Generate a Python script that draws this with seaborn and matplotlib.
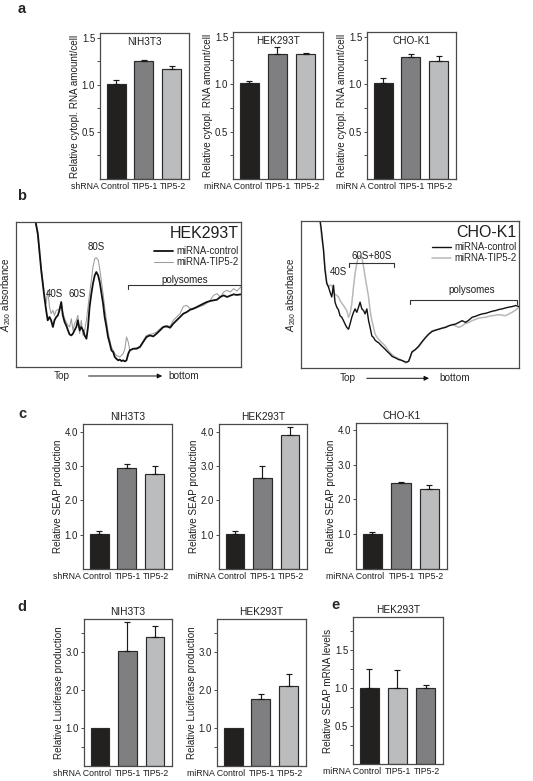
import numpy as np
import pandas as pd
import matplotlib
matplotlib.use("Agg")
import matplotlib.pyplot as plt
import seaborn as sns

# ---- panel a: relative cytoplasmic RNA amount / cell
A_NIH_LABELS = ["shRNA Control", "TIP5-1", "TIP5-2"]
A_HEK_LABELS = ["miRNA Control", "TIP5-1", "TIP5-2"]
A_CHO_LABELS = ["miRN A Control", "TIP5-1", "TIP5-2"]
A_NIH = [1.01, 1.25, 1.17]
A_NIH_ERR = [0.04, 0.01, 0.03]
A_HEK = [1.01, 1.32, 1.32]
A_HEK_ERR = [0.02, 0.07, 0.01]
A_CHO = [1.01, 1.29, 1.24]
A_CHO_ERR = [0.05, 0.03, 0.06]

# ---- panel b: polysome profiles (position along gradient %, A260 arbitrary units)
HEK_POS = [8.6, 9.7, 10.4, 11.2, 11.9, 12.6, 13.4, 14.1, 14.9, 15.6, 16.4, 17.1, 17.9, 18.6, 19.3, 20.1,
           20.8, 21.6, 22.3, 23.1, 23.8, 24.6, 25.3, 26.0, 26.8, 27.5,
           28.3, 29.0, 29.8, 30.5, 31.3, 32.0, 32.7, 33.5, 34.2, 35.0,
           35.7, 36.5, 37.2, 37.9, 38.7, 39.4, 40.2, 40.9, 41.7, 42.4,
           43.2, 43.9, 44.6, 45.4, 46.1, 46.9, 47.6, 48.4, 49.1, 49.9,
           50.6,
           52.1, 53.6, 55.1, 56.5, 58.0, 59.5, 61.0, 62.5, 64.0, 65.5,
           67.0, 68.5, 69.9, 71.4, 72.9, 74.4, 75.9, 77.4, 78.9, 80.4,
           81.8, 83.3, 84.8, 86.3, 87.8, 89.3, 90.8, 92.3, 93.8, 95.2,
           96.7, 98.2, 99.9]
HEK_CTRL = [101, 92, 80.5, 66.7, 57.5, 48.3, 39.1, 32.2, 34.5, 32.2, 27.6, 32.2, 34.5, 35.6, 39.1, 44.8,
            35.6, 31.0, 28.7, 25.3, 22.5, 21.8, 23.0, 25.3, 27.6, 32.2,
            25.3, 27.6, 25.3, 21.8, 19.5, 27.6, 41.4, 50.6, 57.5, 63.2,
            65.5, 63.2, 58.6, 51.7, 43.7, 34.5, 27.6, 20.7, 16.1, 11.5,
            10.3, 6.9, 5.7, 4.6, 5.1, 4.1, 4.6, 3.9, 4.6, 9.2,
            11.5,
            12.6, 12.6, 13.8, 17.2, 20.7, 21.8, 21.1, 23.0, 25.3, 27.6,
            28.0, 27.1, 29.9, 32.2, 34.5, 36.8, 37.9, 39.5, 40.2, 41.4,
            42.5, 43.7, 44.8, 45.5, 46.0, 46.4, 48.3, 49.4, 48.3, 49.2,
            50.1, 49.7, 50.1]
HEK_TIP = [101, 89.7, 78.2, 69.0, 59.8, 50.6, 43.7, 52.9, 41.4, 36.8, 39.1, 35.6, 39.1, 39.5, 40.2, 43.7,
           37.9, 33.3, 31.0, 28.7, 27.6, 33.3, 25.3, 29.9, 32.2, 35.6,
           23.0, 32.2, 21.8, 25.3, 32.2, 41.4, 50.6, 59.8, 69.0, 74.7,
           75.4, 74.0, 67.8, 59.8, 50.6, 41.4, 32.2, 24.1, 18.4, 13.8,
           11.5, 9.2, 8.0, 7.4, 6.9, 8.0, 9.2, 12.6, 20.7, 17.2,
           11.5,
           12.6, 13.3, 14.3, 17.9, 21.8, 22.5, 23.0, 24.1, 26.4, 28.0,
           28.7, 28.0, 32.2, 34.5, 36.8, 41.8, 42.5, 40.2, 40.7, 40.9,
           41.8, 42.5, 44.1, 46.0, 49.4, 50.6, 48.3, 51.7, 52.9, 51.7,
           54.0, 52.4, 55.2]

CHO_POS = [8.7, 9.5, 10.3, 11.0, 11.8, 12.6, 13.3, 14.1, 14.9, 15.6, 16.4, 17.2, 17.9, 18.7, 19.5,
           20.2, 21.0, 21.8, 22.5, 23.3, 24.1, 24.8, 25.6, 26.4, 27.1,
           27.9, 28.7, 29.4, 30.2, 31.0, 31.7, 32.5, 33.3, 34.0, 34.8,
           35.6, 36.3, 37.1, 37.9, 38.7, 39.4, 40.2, 41.0, 41.7, 42.5,
           43.3, 44.0, 44.8, 45.6, 46.3, 47.1, 47.9, 48.6, 49.4, 50.2,
           50.9,
           52.5, 54.0, 55.5, 57.1, 58.6, 60.1, 61.7, 63.2, 64.7, 66.3,
           67.8, 69.3, 70.9, 72.4, 73.9, 75.5, 77.0, 78.5, 80.1, 81.6,
           83.1, 84.7, 86.2, 87.7, 89.3, 90.8, 92.3, 93.9, 95.4, 96.9,
           98.5, 100.0]
CHO_CTRL = [101, 92, 80.5, 66.7, 57.5, 55.2, 51.7, 48.3, 56.3, 44.8, 41.4, 39.5, 35.6, 34.5, 32.2,
            29.9, 27.6, 26.4, 29.9, 34.5, 37.9, 40.2, 37.9, 41.4, 44.8,
            40.2, 39.1, 36.8, 40.2, 32.2, 27.6, 21.8, 20.7, 18.9, 17.9,
            17.2, 16.1, 14.9, 13.8, 12.6, 11.5, 10.3, 9.2, 8.0, 7.4,
            6.9, 6.4, 5.7, 5.5, 5.1, 4.6, 4.1, 4.1, 4.6, 8.0,
            11.0,
            12.6, 14.9, 17.9, 20.7, 23.0, 24.8, 25.7, 26.4, 27.1, 27.6,
            28.7, 29.4, 29.9, 31.0, 32.2, 31.0, 32.6, 34.5, 35.2, 36.1,
            36.8, 37.2, 37.9, 38.6, 39.1, 39.8, 40.2, 40.9, 41.4, 41.8,
            42.5, 41.8]
CHO_TIP = [101, 87.4, 81.6, 69.0, 58.6, 55.2, 56.3, 56.3, 51.7, 50.1, 49.4, 48.3, 46.0, 44.1, 42.5,
           40.9, 39.1, 34.5, 36.8, 43.7, 55.2, 64.4, 71.3, 75.9, 76.3,
           75.4, 69.0, 62.1, 55.2, 48.3, 39.1, 32.2, 27.6, 23.0, 21.1,
           19.5, 18.4, 17.2, 16.1, 14.9, 13.3, 11.5, 10.3, 9.2, 8.3,
           7.4, 6.9, 6.4, 5.7, 5.1, 4.6, 3.4, 3.9, 4.6, 7.4,
           10.3,
           12.6, 14.3, 17.2, 20.7, 23.4, 25.3, 25.9, 26.4, 27.1, 28.0,
           28.7, 29.4, 28.7, 27.6, 28.7, 30.3, 31.0, 32.2, 33.1, 34.0,
           34.3, 34.5, 35.2, 35.6, 35.9, 36.3, 35.9, 35.6, 36.8, 37.9,
           39.5, 41.4]

# ---- panel c: relative SEAP production
C_NIH_LABELS = ["shRNA Control", "TIP5-1", "TIP5-2"]
C_MIR_LABELS = ["miRNA Control", "TIP5-1", "TIP5-2"]
C_NIH = [1.01, 2.95, 2.76]
C_NIH_ERR = [0.10, 0.10, 0.24]
C_HEK = [1.01, 2.66, 3.91]
C_HEK_ERR = [0.09, 0.34, 0.24]
C_CHO = [1.02, 2.47, 2.31]
C_CHO_ERR = [0.05, 0.02, 0.12]

# ---- panel d: relative luciferase production
D_NIH = [1.00, 3.03, 3.40]
D_NIH_ERR = [0.0, 0.75, 0.28]
D_HEK = [1.00, 1.77, 2.10]
D_HEK_ERR = [0.0, 0.12, 0.32]

# ---- panel e: relative SEAP mRNA levels
E_LABELS = ["miRNA Control", "TIP5-1", "TIP5-2"]
E_VALS = [1.00, 1.00, 1.00]
E_ERR = [0.25, 0.23, 0.04]

BLACK, DARK, LIGHT = "#231f20", "#7f7f81", "#bbbcbe"
EDGE, SPINE, TXT = "#2a2a2a", "#4a4a4a", "#1e1e1e"

sns.set_style("ticks")
plt.rcParams["font.family"] = ["Liberation Sans", "DejaVu Sans"]
plt.rcParams["mathtext.fontset"] = "custom"
plt.rcParams["mathtext.rm"] = "Liberation Sans"
plt.rcParams["mathtext.it"] = "Liberation Sans:italic"

W, H = 533, 781
fig = plt.figure(figsize=(W / 100, H / 100), dpi=100)


def box(x0, y0, x1, y1):
    return [x0 / W, 1 - y1 / H, (x1 - x0) / W, (y1 - y0) / H]


def frame(ax):
    for s in ax.spines.values():
        s.set_color(SPINE)
        s.set_linewidth(0.9)


def bar_panel(px, labels, vals, errs, colors, title, ylabel, ylim, major, minor,
              inner_title=False, first_tick=0.42):
    ax = fig.add_axes(box(*px))
    df = pd.DataFrame({"cond": labels, "value": vals})
    sns.barplot(data=df, x="cond", y="value", hue="cond", order=labels, hue_order=labels,
                palette=dict(zip(labels, colors)), width=0.68, edgecolor=EDGE, linewidth=0.85,
                errorbar=None, legend=False, ax=ax)
    idx = [i for i, e in enumerate(errs) if e > 0]
    ax.errorbar(idx, [vals[i] for i in idx], yerr=[[0] * len(idx), [errs[i] for i in idx]],
                fmt="none", ecolor="#1a1a1a", elinewidth=0.85, capsize=2.2, capthick=0.85)
    ax.set_xlim(-0.58, 2.62)
    ax.set_ylim(*ylim)
    ax.set_yticks(major)
    ax.set_yticklabels([f"{v:.1f}" for v in major])
    ax.set_yticks(minor, minor=True)
    ax.tick_params(axis="y", which="both", length=2.5, width=0.7, labelsize=6.9, pad=1,
                   color=SPINE, labelcolor=TXT)
    ax.set_xticks([first_tick, 1.03, 2.05])
    ax.set_xticklabels(labels, fontsize=6.35, color=TXT)
    ax.tick_params(axis="x", length=0, pad=2.5)
    ax.get_xticklabels()[0].set_horizontalalignment("right")
    ax.set_xlabel("")
    ax.set_ylabel(ylabel, fontsize=7.1, labelpad=1.5, color=TXT)
    if inner_title:
        ax.text(0.5, 0.975, title, transform=ax.transAxes, ha="center", va="top",
                fontsize=7.2, color=TXT)
    else:
        ax.set_title(title, fontsize=7.3, pad=3, color=TXT)
    frame(ax)
    return ax


def profile_panel(px, pos, ctrl, tip, name, ctrl_style, tip_style, leg_anchor, notes, brackets,
                  arrow):
    ax = fig.add_axes(box(*px))
    sns.lineplot(x=pos, y=tip, ax=ax, sort=False, estimator=None, label="miRNA-TIP5-2", **tip_style)
    sns.lineplot(x=pos, y=ctrl, ax=ax, sort=False, estimator=None, label="miRNA-control", **ctrl_style)
    ax.set_xlim(0, 100)
    ax.set_ylim(0, 100)
    ax.set_xticks([])
    ax.set_yticks([])
    ax.set_xlabel("")
    ax.set_ylabel("$\\it{A}_{\\rm 260}$ absorbance", fontsize=7.1, labelpad=2, color=TXT)
    h, l = ax.get_legend_handles_labels()
    ax.legend(h[::-1], l[::-1], loc="upper right", bbox_to_anchor=leg_anchor, frameon=False,
              fontsize=6.9, handlelength=2.0, handletextpad=0.4, labelspacing=0.1,
              borderpad=0.1, borderaxespad=0.1)
    ax.text(0.99, 0.975, name, transform=ax.transAxes, ha="right", va="top", fontsize=11.5,
            color=TXT)
    for txt, x, y in notes:
        ax.text(x, y, txt, ha="center", va="center", fontsize=7, color=TXT)
    for x0, x1, y in brackets:
        ax.plot([x0, x0, x1, x1], [y - 2.3, y, y, y - 2.3], color="#333", lw=0.8, clip_on=False)
    ty, xt, a0, a1, xb = arrow
    ax.text(xt, ty, "Top", transform=ax.transAxes, ha="center", va="center", fontsize=7.2)
    ax.annotate("", xy=(a1, ty), xytext=(a0, ty), xycoords="axes fraction",
                arrowprops=dict(arrowstyle="-|>", color="#111", lw=0.7, mutation_scale=7))
    ax.text(xb, ty, "bottom", transform=ax.transAxes, ha="left", va="center", fontsize=7.2)
    frame(ax)
    return ax


# panel a
a_major, a_minor = [0.5, 1.0, 1.5], [0.25, 0.75, 1.25]
a_ylabel = "Relative cytopl. RNA amount/cell"
bar_panel((100, 33, 189, 179), A_NIH_LABELS, A_NIH, A_NIH_ERR, [BLACK, DARK, LIGHT], "NIH3T3",
          a_ylabel, (0, 1.55), a_major, a_minor, inner_title=True, first_tick=0.45)
bar_panel((233, 32, 323, 179), A_HEK_LABELS, A_HEK, A_HEK_ERR, [BLACK, DARK, LIGHT], "HEK293T",
          a_ylabel, (0, 1.55), a_major, a_minor, inner_title=True, first_tick=0.45)
bar_panel((367, 32, 456, 179), A_CHO_LABELS, A_CHO, A_CHO_ERR, [BLACK, DARK, LIGHT], "CHO-K1",
          a_ylabel, (0, 1.55), a_major, a_minor, inner_title=True, first_tick=0.45)

# panel b
profile_panel((16, 222, 241, 367), HEK_POS, HEK_CTRL, HEK_TIP, "HEK293T",
              dict(color="#111111", lw=1.3), dict(color="#9c9c9c", lw=0.75), (1.0, 0.845),
              [("80S", 35.7, 83), ("40S", 16.9, 50.6), ("60S", 27.2, 50.6), ("polysomes", 75, 60)],
              [(49.6, 100, 56.3)], (-0.062, 0.204, 0.31, 0.662, 0.676))
profile_panel((301, 221, 519, 368), CHO_POS, CHO_CTRL, CHO_TIP, "CHO-K1",
              dict(color="#111111", lw=1.0), dict(color="#b8b8b8", lw=1.1), (1.0, 0.87),
              [("40S", 17.2, 65.5), ("60S+80S", 32.2, 76.5), ("polysomes", 78.2, 53)],
              [(21.8, 42.5, 71.3), (50.2, 99.2, 46)], (-0.07, 0.216, 0.289, 0.60, 0.633))

# panel c
c_major = [1.0, 2.0, 3.0, 4.0]
c_ylabel = "Relative SEAP production"
bar_panel((83, 424, 172, 569), C_NIH_LABELS, C_NIH, C_NIH_ERR, [BLACK, DARK, LIGHT], "NIH3T3",
          c_ylabel, (0, 4.23), c_major, [])
bar_panel((219, 424, 307, 569), C_MIR_LABELS, C_HEK, C_HEK_ERR, [BLACK, DARK, LIGHT], "HEK293T",
          c_ylabel, (0, 4.23), c_major, [])
bar_panel((356, 423, 447, 569), C_MIR_LABELS, C_CHO, C_CHO_ERR, [BLACK, DARK, LIGHT], "CHO-K1",
          c_ylabel, (0, 4.2), c_major, [])

# panel d
d_ylabel = "Relative Luciferase production"
bar_panel((84, 619, 172, 766), C_NIH_LABELS, D_NIH, D_NIH_ERR, [BLACK, DARK, LIGHT], "NIH3T3",
          d_ylabel, (0, 3.87), [1.0, 2.0, 3.0], [0.5, 3.5])
bar_panel((217, 619, 306, 766), C_MIR_LABELS, D_HEK, D_HEK_ERR, [BLACK, DARK, LIGHT], "HEK293T",
          d_ylabel, (0, 3.87), [1.0, 2.0, 3.0], [0.5, 3.5])

# panel e
bar_panel((353, 617, 443, 764), E_LABELS, E_VALS, E_ERR, [BLACK, LIGHT, DARK], "HEK293T",
          "Relative SEAP mRNA levels", (0, 1.93), [0.5, 1.0, 1.5], [0.25, 0.75, 1.25, 1.75])

for letter, x, y in [("a", 22, 9), ("b", 22, 196), ("c", 22, 414), ("d", 22, 607), ("e", 335, 605)]:
    fig.text(x / W, 1 - y / H, letter, fontsize=10.5, fontweight="bold", ha="center", va="center")

fig.savefig("out.png", dpi=100)
